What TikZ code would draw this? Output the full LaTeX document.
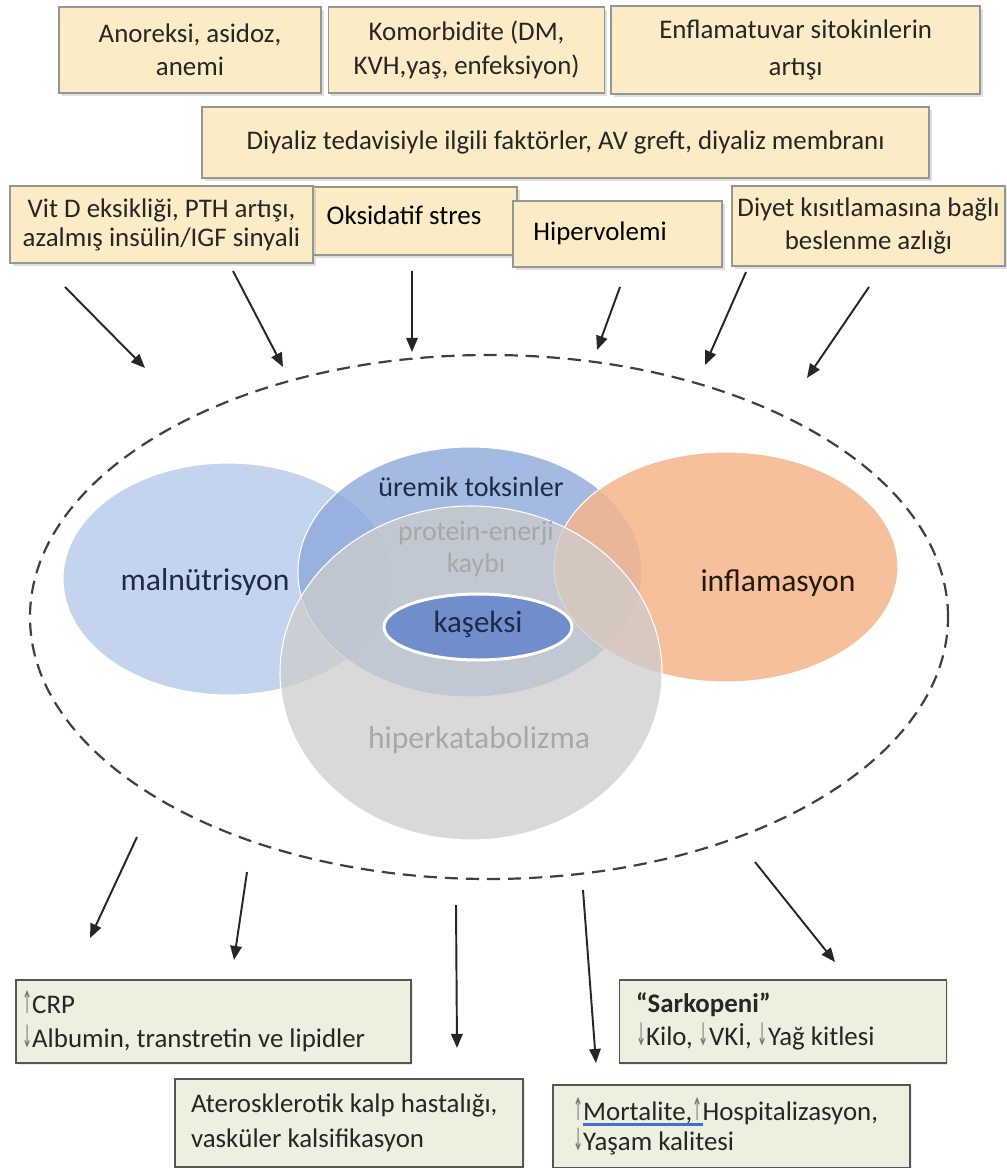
\documentclass[tikz,border=0pt]{standalone}
\usepackage{fontspec}
\setmainfont{Carlito}
\newfontfamily\arrowfont{DejaVu Sans}
\usepackage{graphicx}
\usepackage{calc}
\usepackage{xcolor}
\usetikzlibrary{shapes, shapes.geometric, arrows.meta, positioning, calc, shadows}
\definecolor{causeFill}{RGB}{252, 236, 198}
\definecolor{causeEdge}{RGB}{150, 150, 150}
\definecolor{outFill}{RGB}{235, 241, 222}
\definecolor{outEdge}{RGB}{85, 85, 85}
\definecolor{malBlue}{RGB}{197, 212, 238}
\definecolor{uremBlue}{RGB}{142, 169, 219}
\definecolor{inflOrange}{RGB}{245, 182, 140}
\definecolor{hiperGray}{RGB}{205, 205, 205}
\definecolor{kasBlue}{RGB}{112, 141, 204}
\definecolor{navyText}{RGB}{30, 42, 70}
\definecolor{fadeText}{RGB}{168, 168, 168}
\definecolor{arrowGray}{RGB}{120, 120, 120}
\definecolor{ulBlue}{RGB}{70, 110, 210}

\newcommand{\uparr}{{\color{arrowGray}\arrowfont\scalebox{0.45}[1.15]{↑}}}
\newcommand{\dnarr}{{\color{arrowGray}\arrowfont\scalebox{0.45}[1.15]{↓}}}
\newcommand{\spellul}[1]{\rlap{\color{ulBlue}\rule[-0.22em]{\widthof{#1}}{0.1em}}#1}

\begin{document}
\begin{tikzpicture}[
        x=0.02cm, y=-0.02cm,
        font=\fontsize{15.3}{19}\selectfont,
        boxsize/.style 2 args={minimum width=#1*0.02cm, minimum height=#2*0.02cm},
        causebox/.style={rectangle, draw=causeEdge, fill=causeFill, line width=0.9pt, align=center, inner sep=0pt, text=black!85, drop shadow={opacity=0.25, shadow xshift=1.5pt, shadow yshift=-1.5pt}},
        outbox/.style={rectangle, draw=outEdge, fill=outFill, line width=0.9pt, align=flush left, inner xsep=0.32cm, inner ysep=0pt, text=black!85, drop shadow={opacity=0.15, shadow xshift=1pt, shadow yshift=-1pt}},
        venn/.style={ellipse, draw=white, line width=0.6pt, inner sep=0pt},
        vennlabel/.style={font=\fontsize{18}{20}\selectfont, text=navyText},
        fadelabel/.style={font=\fontsize{15.8}{18}\selectfont, text=fadeText, align=center},
        arrow/.style={-{Triangle[length=8pt, width=6.5pt]}, line width=1.1pt, black!85}
    ]
        \fill[white] (0,0) rectangle (1006,1168);
        \useasboundingbox (0,0) rectangle (1006,1168);

        % Causes, row 1
        \node[causebox, boxsize={262}{86}] (anoreksi) at (190,50) {Anoreksi, asidoz,\\anemi};
        \node[causebox, boxsize={276}{86}, right=0.12cm of anoreksi] (komorb) {Komorbidite (DM,\\KVH,yaş, enfeksiyon)};
        \node[causebox, boxsize={369}{88}, right=0.1cm of komorb] (enflam) {Enflamatuvar sitokinlerin\\[2pt]artışı};

        % Causes, row 2
        \node[causebox, boxsize={727}{71}] (diyaliz) at (565.5,142.5) {Diyaliz tedavisiyle ilgili faktörler, AV greft, diyaliz membranı};

        % Causes, row 3
        \node[causebox, boxsize={204}{68}, label={[xshift=-0.22cm, yshift=0.12cm]center:Oksidatif stres}] (oksid) at (415,221) {};
        \node[causebox, boxsize={303}{77}, font=\fontsize{15.3}{16.5}\selectfont] (vitd) at (161.5,224.5) {Vit D eksikliği, PTH artışı,\\azalmış insülin/IGF sinyali};
        \node[causebox, boxsize={209}{66}, label={[xshift=-0.35cm, yshift=0.01cm]center:Hipervolemi}] (hipervol) at (617.5,234) {};
        \node[causebox, boxsize={273}{80}] (diyet) at (868.5,226) {Diyet kısıtlamasına bağlı\\beslenme azlığı};

        % Venn
        \node[draw=black!75, dash pattern=on 7.5pt off 4.5pt, line width=1.25pt, ellipse, boxsize={918}{524}] (outer) at (489,617) {};
        \node[venn, fill=malBlue, boxsize={330}{232}] (maln) at (228,579) {};
        \node[venn, fill=uremBlue, fill opacity=0.8, boxsize={344}{250}] (urem) at (470,572) {};
        \node[venn, fill=inflOrange, fill opacity=0.85, boxsize={344}{230}] (infl) at (726,567) {};
        \node[venn, fill=hiperGray, fill opacity=0.75, boxsize={382}{334}] (hiper) at (471,673) {};
        \node[venn, fill=kasBlue, line width=1.7pt, boxsize={188}{66}] (kas) at (478,627) {};

        \node[vennlabel] (malnlabel) at (205,582) {malnütrisyon};
        \node[vennlabel, font=\fontsize{16}{18}\selectfont] (uremlabel) at (471,487) {üremik toksinler};
        \node[vennlabel, text=black!80!brown] (infllabel) at (778,583) {inflamasyon};
        \node[fadelabel] (pelabel) at (476,549) {protein-enerji\\kaybı};
        \node[vennlabel, font=\fontsize{17.6}{19}\selectfont] (kaslabel) at (478,624) {kaşeksi};
        \node[fadelabel, font=\fontsize{18}{20}\selectfont] (hiperlabel) at (479,740) {hiperkatabolizma};

        % Outcomes
        \node[outbox, inner xsep=0.12cm, text width=7.66cm, boxsize={395}{83}] (crp) at (213.5,1021.5) {\uparr CRP\\\dnarr Albumin, transtretin ve lipidler};
        \node[outbox, text width=5.88cm, boxsize={324}{83}, inner xsep=0.33cm] (sarko) at (783,1021.5) {\textbf{“Sarkopeni”}\\\dnarr Kilo, \dnarr VKİ, \dnarr Yağ kitlesi};
        \node[outbox, text width=6.32cm, boxsize={348}{88}, font=\fontsize{15.3}{19.8}\selectfont] (ateros) at (349,1123) {Aterosklerotik kalp hastalığı,\\vasküler kalsifikasyon};
        \node[outbox, text width=6.34cm, inner xsep=0.4cm, boxsize={357}{83}, font=\fontsize{15.3}{17.5}\selectfont] (mortal) at (731.5,1126.5) {\uparr\spellul{Mortalite,\uparr}Hospitalizasyon,\\\dnarr Yaşam kalitesi};

        % Arrow ends
        \coordinate (in1s) at (65,287);   \coordinate (in1e) at (145,368);
        \coordinate (in2s) at (233,271);  \coordinate (in2e) at (283,367);
        \coordinate (in3s) at (412,271);  \coordinate (in3e) at (412,352);
        \coordinate (in4s) at (620,287);  \coordinate (in4e) at (597,350);
        \coordinate (in5s) at (746,272);  \coordinate (in5e) at (705,365);
        \coordinate (in6s) at (869,287);  \coordinate (in6e) at (807,378);
        \coordinate (out1s) at (137,837); \coordinate (out1e) at (90,938);
        \coordinate (out2s) at (247,872); \coordinate (out2e) at (234,960);
        \coordinate (out3s) at (456,905); \coordinate (out3e) at (457,1048);
        \coordinate (out4s) at (583,890); \coordinate (out4e) at (596,1063);
        \coordinate (out5s) at (755,862); \coordinate (out5e) at (835,962);

        \draw[arrow] (in1s) -- (in1e);
        \draw[arrow] (in2s) -- (in2e);
        \draw[arrow] (in3s) -- (in3e);
        \draw[arrow] (in4s) -- (in4e);
        \draw[arrow] (in5s) -- (in5e);
        \draw[arrow] (in6s) -- (in6e);
        \draw[arrow] (out1s) -- (out1e);
        \draw[arrow] (out2s) -- (out2e);
        \draw[arrow] (out3s) -- (out3e);
        \draw[arrow] (out4s) -- (out4e);
        \draw[arrow] (out5s) -- (out5e);
\end{tikzpicture}
\end{document}
